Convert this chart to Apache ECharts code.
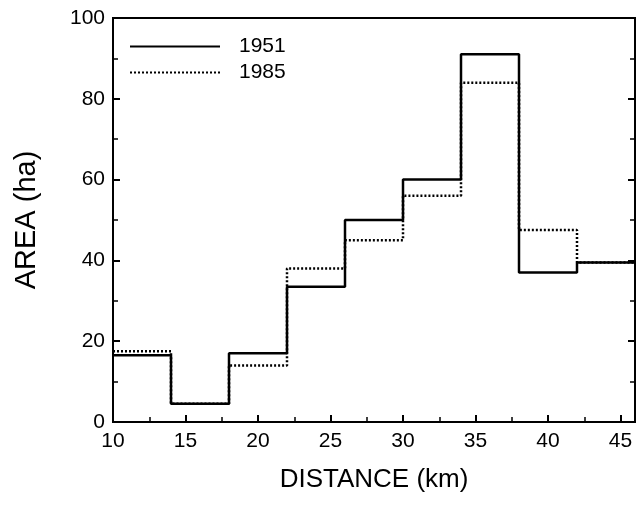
<!DOCTYPE html>
<html>
<head>
<meta charset="utf-8">
<script src="https://cdn.jsdelivr.net/npm/echarts@6/dist/echarts.min.js"></script>
<style>
  html, body { margin: 0; padding: 0; background: #fff; }
  #main { width: 643px; height: 506px; }
</style>
</head>
<body>
<div id="main"></div>
<script>
var chart = echarts.init(document.getElementById('main'));

// bins of distance (km), left edges, last edge closes the final bin
var binStarts = [10, 14, 18, 22, 26, 30, 34, 38, 42];
var lastEdge = 46;
var area1951 = [16.5, 4.5, 17, 33.5, 50, 60, 91, 37, 39.5];
var area1985 = [17.5, 4.5, 14, 38, 45, 56, 84, 47.5, 39.5];
var xTicks = [10, 15, 20, 25, 30, 35, 40, 45];
var yTicks = [0, 20, 40, 60, 80, 100];

function steps(vals) {
    var d = binStarts.map(function (x, i) { return [x, vals[i]]; });
    d.push([lastEdge, vals[vals.length - 1]]);
    return d;
}

var font = 'Liberation Sans, Arial, sans-serif';

option = {
    backgroundColor: '#fff',
    animation: false,
    grid: {
        left: 113, right: 8, top: 18, bottom: 84,
        show: true, borderColor: '#000', borderWidth: 2
    },
    legend: {
        orient: 'vertical',
        left: 124, top: 31,
        itemWidth: 90, itemHeight: 14, itemGap: 5,
        data: ['1951', '1985'],
        itemStyle: { opacity: 0 },
        textStyle: { fontFamily: font, fontSize: 21, lineHeight: 20, color: '#000', padding: [0, 0, 0, 14] }
    },
    xAxis: {
        type: 'value',
        min: 10, max: lastEdge, interval: 5,
        name: 'DISTANCE (km)',
        nameLocation: 'middle', nameGap: 45,
        nameTextStyle: { fontFamily: font, fontSize: 26, color: '#000' },
        axisLine: { lineStyle: { color: '#000', width: 2 } },
        axisTick: { inside: true, length: 7, lineStyle: { color: '#000', width: 2 } },
        minorTick: { show: true, splitNumber: 2, length: 5, lineStyle: { color: '#000', width: 1.5 } },
        axisLabel: {
            fontFamily: font, fontSize: 21, color: '#000', margin: 9, showMaxLabel: false,
            formatter: function (v) { return xTicks.indexOf(v) >= 0 ? v : ''; }
        },
        splitLine: { show: false }
    },
    yAxis: [{
        type: 'value',
        min: 0, max: 100, interval: 20,
        name: 'AREA (ha)',
        nameLocation: 'middle', nameGap: 72,
        nameTextStyle: { fontFamily: font, fontSize: 29, color: '#000' },
        axisLine: { lineStyle: { color: '#000', width: 2 } },
        axisTick: { inside: true, length: 7, lineStyle: { color: '#000', width: 2 } },
        minorTick: { show: true, splitNumber: 2, length: 5, lineStyle: { color: '#000', width: 1.5 } },
        axisLabel: {
            fontFamily: font, fontSize: 21, color: '#000', margin: 8,
            formatter: function (v) { return yTicks.indexOf(v) >= 0 ? v : ''; }
        },
        splitLine: { show: false }
    }, {
        type: 'value',
        position: 'right',
        min: 0, max: 100, interval: 20,
        axisLine: { show: true, lineStyle: { color: '#000', width: 2 } },
        axisTick: { inside: true, length: 7, lineStyle: { color: '#000', width: 2 } },
        minorTick: { show: true, splitNumber: 2, length: 5, lineStyle: { color: '#000', width: 1.5 } },
        axisLabel: { show: false },
        splitLine: { show: false }
    }],
    series: [{
        name: '1985',
        type: 'line',
        step: 'end',
        symbol: 'none',
        data: steps(area1985),
        lineStyle: { color: '#000', width: 2.5, type: [2, 2] },
        itemStyle: { color: '#000' },
        z: 2
    }, {
        name: '1951',
        type: 'line',
        step: 'end',
        symbol: 'none',
        data: steps(area1951),
        lineStyle: { color: '#000', width: 2.5, type: 'solid' },
        itemStyle: { color: '#000' },
        z: 3
    }]
};

chart.setOption(option);
</script>
</body>
</html>
